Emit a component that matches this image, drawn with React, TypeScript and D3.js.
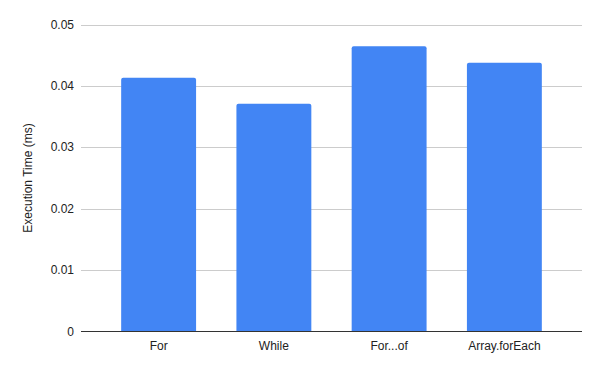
import React from "react";
import * as d3 from "d3";

const categories = ["For", "While", "For...of", "Array.forEach"];
const values = [0.04135, 0.03711, 0.04646, 0.0438];
const yTicks = [0, 0.01, 0.02, 0.03, 0.04, 0.05];
const yTickLabels = ["0", "0.01", "0.02", "0.03", "0.04", "0.05"];
const yTitle = "Execution Time (ms)";

export default function App() {
  const W = 600, H = 371;
  const left = 81, right = 582, top = 24.6, bottom = 331.5;
  const y = d3.scaleLinear().domain([0, 0.05]).range([bottom, top]);
  const x = d3.scaleBand().domain(categories).range([left + 20, right - 20]).paddingInner(0.35).paddingOuter(0.175);
  const font = "Arial, 'Liberation Sans', sans-serif";
  const barPath = (x0: number, y0: number, w: number, h: number) => {
    const r = 2;
    return `M${x0},${y0 + h}V${y0 + r}Q${x0},${y0} ${x0 + r},${y0}H${x0 + w - r}Q${x0 + w},${y0} ${x0 + w},${y0 + r}V${y0 + h}Z`;
  };
  return (
    <svg width={W} height={H} style={{ position: "absolute", left: 0, top: 0, background: "#fff" }}>
      <rect width={W} height={H} fill="#fff" />
      {yTicks.map((t, i) => (
        <g key={i}>
          {t !== 0 && (
            <line x1={left} x2={right} y1={Math.round(y(t)) + 0.5} y2={Math.round(y(t)) + 0.5} stroke="#cccccc" strokeWidth={1} />
          )}
          <text x={74} y={y(t) + 4} textAnchor="end" fontSize={12} fontFamily={font} fill="#222">
            {yTickLabels[i]}
          </text>
        </g>
      ))}
      {categories.map((c, i) => {
        const bx = x(c)!;
        const w = x.bandwidth();
        const yt = y(values[i]);
        return (
          <g key={c}>
            <path d={barPath(bx, yt, w, bottom - yt)} fill="#4285f4" />
            <text x={bx + w / 2} y={350} textAnchor="middle" fontSize={12} fontFamily={font} fill="#222">
              {c}
            </text>
          </g>
        );
      })}
      <line x1={left} x2={right} y1={331.5} y2={331.5} stroke="#333" strokeWidth={1} />
      <text transform={`translate(32,178) rotate(-90)`} textAnchor="middle" fontSize={12} fontFamily={font} fill="#222">
        {yTitle}
      </text>
    </svg>
  );
}
